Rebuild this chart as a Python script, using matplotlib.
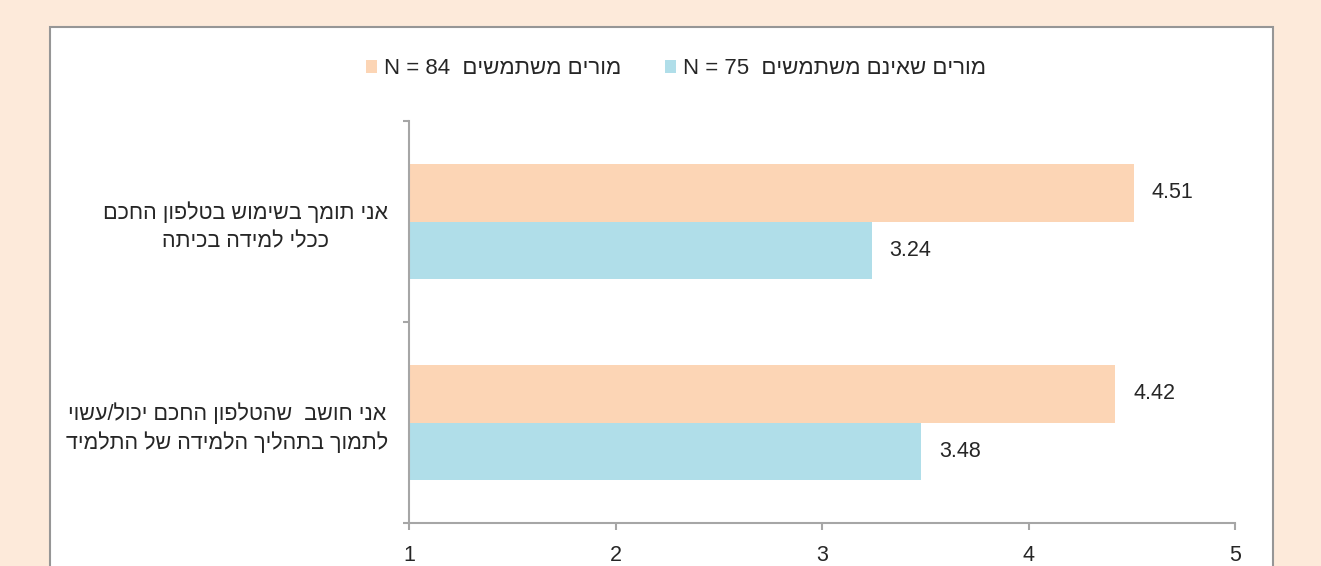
import matplotlib.pyplot as plt
from matplotlib.patches import Rectangle

plt.rcParams['font.family'] = ['Liberation Sans', 'DejaVu Sans']

def vis(s):
    # matplotlib draws left to right, so Hebrew is reversed for display
    return s[::-1]

categories = [
    vis("אני תומך בשימוש בטלפון החכם") + "\n" + vis("ככלי למידה בכיתה"),
    vis("אני חושב  שהטלפון החכם יכול/עשוי") + "\n" + vis("לתמוך בתהליך הלמידה של התלמיד"),
]
users = [4.51, 4.42]
non_users = [3.24, 3.48]
users_label = "N = 84  " + vis("מורים משתמשים")
non_users_label = "N = 75  " + vis("מורים שאינם משתמשים")
xticks = [1, 2, 3, 4, 5]

peach = '#FCD5B5'
blue = '#B0DEE9'
grey = '#A6A6A6'
txt = '#262626'

fig = plt.figure(figsize=(13.21, 5.66), dpi=100)
fig.patch.set_facecolor('#FDEADA')

# chart area box
box = Rectangle((50 / 1321, -0.05), (1273 - 50) / 1321, 1 - 27 / 566 + 0.05,
                transform=fig.transFigure, facecolor='white', edgecolor='#969696',
                linewidth=1.5, zorder=-5)
fig.patches.append(box)

ax = fig.add_axes([409 / 1321, 1 - 523 / 566, (1235 - 409) / 1321, (523 - 121) / 566])
ax.set_facecolor('none')

h = 0.286
pos = [0.5, 1.5]
b1 = ax.barh([p - h / 2 for p in pos], [u - 1 for u in users], left=1, height=h,
             color=peach, label=users_label)
b2 = ax.barh([p + h / 2 for p in pos], [n - 1 for n in non_users], left=1, height=h,
             color=blue, label=non_users_label)

for bars, vals in ((b1, users), (b2, non_users)):
    for r, v in zip(bars, vals):
        ax.annotate(f"{v:.2f}", (r.get_x() + r.get_width(), r.get_y() + r.get_height() / 2),
                    xytext=(13, 0), textcoords='offset points', va='center', ha='left',
                    fontsize=15.5, color=txt)

ax.set_xlim(1, 5)
ax.set_ylim(2, 0)
ax.set_xticks(xticks)
ax.set_xticklabels([str(x) for x in xticks])
ax.set_yticks(pos)
ax.set_yticklabels(categories)
ax.set_yticks([0, 1, 2], minor=True)
for lbl in ax.get_yticklabels():
    lbl.set_multialignment('center')
    lbl.set_linespacing(1.45)

for s in ['top', 'right']:
    ax.spines[s].set_visible(False)
for s in ['left', 'bottom']:
    ax.spines[s].set_color(grey)
    ax.spines[s].set_linewidth(1.5)

ax.tick_params(axis='x', direction='out', length=5, width=1.5, color=grey,
               labelsize=15.5, labelcolor=txt, pad=11)
ax.tick_params(axis='y', which='major', length=0, labelsize=15.5, labelcolor=txt, pad=15)
ax.tick_params(axis='y', which='minor', direction='out', length=4.5, width=1.5, color=grey)

fig.legend(handles=[b1, b2], loc='center', bbox_to_anchor=(676 / 1321, 1 - 69 / 566),
           ncol=2, frameon=False, fontsize=16, handlelength=0.5, handleheight=0.5,
           handletextpad=0.3, columnspacing=2.0, labelcolor=txt)

fig.savefig('out.png', dpi=100, facecolor=fig.get_facecolor())
